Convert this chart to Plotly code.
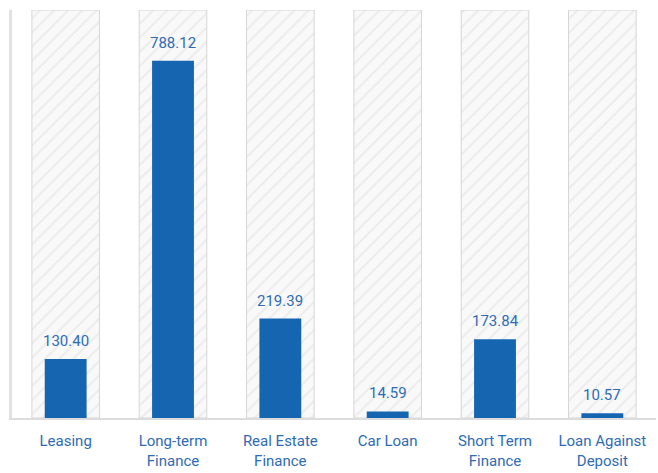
import plotly.graph_objects as go

categories = ["Leasing", "Long-term<br>Finance", "Real Estate<br>Finance", "Car Loan", "Short Term<br>Finance", "Loan Against<br>Deposit"]
values = [130.40, 788.12, 219.39, 14.59, 173.84, 10.57]
background_max = [900] * len(categories)
value_labels = [f"{v:.2f}" for v in values]

blue = "#1565b0"
text_blue = "#2f6cb3"

fig = go.Figure()
fig.add_trace(go.Bar(
    x=categories, y=background_max, width=0.63,
    marker=dict(color="#f8f8f8",
                line=dict(color="#d6d6d6", width=1),
                pattern=dict(shape="/", fgcolor="#dedede", bgcolor="#f9f9f9", size=10, solidity=0.2)),
    hoverinfo="skip", showlegend=False,
))
fig.add_trace(go.Bar(
    x=categories, y=values, width=0.39,
    marker=dict(color=blue, line=dict(width=0)),
    showlegend=False,
))
for c, v, lab in zip(categories, values, value_labels):
    fig.add_annotation(x=c, y=v, text=lab, showarrow=False, yanchor="bottom",
                       yshift=7, font=dict(color=text_blue, size=15, family="Roboto"))
fig.update_layout(
    barmode="overlay",
    width=658, height=473,
    margin=dict(l=12, r=2, t=10, b=55),
    paper_bgcolor="white", plot_bgcolor="white",
    font=dict(family="Roboto", size=15, color=text_blue),
    xaxis=dict(showline=True, linecolor="#dcdcdc", linewidth=2, showgrid=False,
               ticks="outside", ticklen=8, tickcolor="rgba(0,0,0,0)",
               tickfont=dict(color=text_blue, size=15, family="Roboto")),
    yaxis=dict(range=[0, 900], showline=True, linecolor="#e2e2e2", linewidth=3,
               showgrid=False, showticklabels=False, zeroline=False, ticks=""),
)
fig.write_html("out.html", config={"displayModeBar": False},
               post_script="document.body.style.margin='0';")
